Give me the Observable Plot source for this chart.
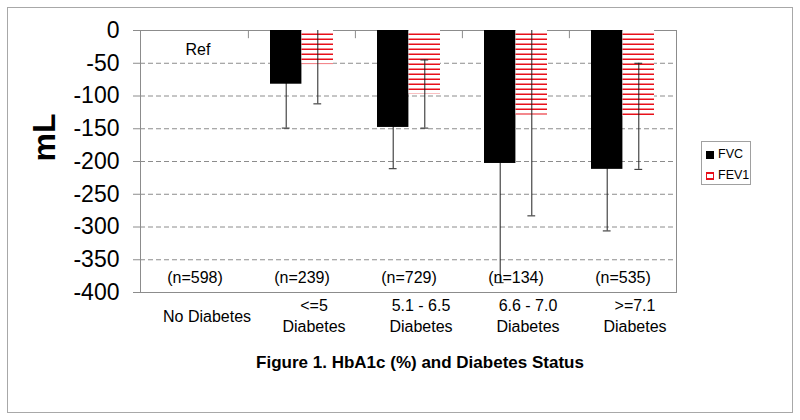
<!DOCTYPE html>
<html>
<head>
<meta charset="utf-8">
<script src="https://cdn.jsdelivr.net/npm/d3@7"></script>
<script src="https://cdn.jsdelivr.net/npm/@observablehq/plot@0.6"></script>
<style>
  html, body { margin: 0; padding: 0; background: #fff; }
  #wrap { position: relative; width: 800px; height: 420px; font-family: "Liberation Sans", Arial, sans-serif; overflow: hidden; }
  #border { position: absolute; left: 7px; top: 7px; width: 786px; height: 406px; box-sizing: border-box; border: 1px solid #a8a8a8; }
  #chart { position: absolute; left: 0; top: 0; }
  #title { position: absolute; left: 0; width: 840px; top: 353px; text-align: center; font-weight: bold; font-size: 17px; color: #000; }
  #legend { position: absolute; left: 701px; top: 141px; width: 50px; height: 44px; box-sizing: border-box; border: 1px solid #a0a0a0; font-size: 12.5px; background: #fff; }
  .item { position: absolute; left: 4px; height: 14px; line-height: 14px; white-space: nowrap; }
  .sw { display: inline-block; width: 8px; height: 8px; vertical-align: -1px; margin-right: 4px; box-sizing: border-box; }
</style>
</head>
<body>
<svg width="0" height="0" style="position:absolute">
  <defs>
    <pattern id="fev1Stripes" patternUnits="userSpaceOnUse" width="10" height="5">
      <rect width="10" height="5" fill="#ffffff"></rect>
      <rect y="3.5" width="10" height="1.5" fill="#e8101a"></rect>
    </pattern>
  </defs>
</svg>
<div id="wrap">
  <div id="border"></div>
  <div id="chart"></div>
  <div id="legend"></div>
  <div id="title"></div>
</div>
<script>
// ---- data ----
const categories = ["No Diabetes", "<=5", "5.1 - 6.5", "6.6 - 7.0", ">=7.1"];
const xLabels = ["No Diabetes", "<=5\nDiabetes", "5.1 - 6.5\nDiabetes", "6.6 - 7.0\nDiabetes", ">=7.1\nDiabetes"];
const nCounts = [598, 239, 729, 134, 535];
const fvc = [0, -82, -148, -203, -212];
const fvcErr = [0, 67, 63, 182, 94];
const fev1 = [0, -52, -97, -129, -131];
const fev1Err = [0, 60, 52, 154, 81];
const yTicks = [0, -50, -100, -150, -200, -250, -300, -350, -400];
const gridTicks = [-50, -100, -150, -200, -250, -300, -350];
const seriesNames = ["FVC", "FEV1"];
const refLabel = "Ref";
const yLabel = "mL";
const titleText = "Figure 1. HbA1c (%) and Diabetes Status";

const rows = categories.map((c, i) => ({
  cat: c, label: xLabels[i], n: nCounts[i],
  fvc: fvc[i], fvcErr: fvcErr[i], fev1: fev1[i], fev1Err: fev1Err[i]
}));
const fvcRows = rows.filter(d => d.fvcErr > 0);
const fev1Rows = rows.filter(d => d.fev1Err > 0);

// ---- layout ----
const W = 800, H = 340;
const mL = 140, mR = 124, mT = 30, mB = 48;
const B = (W - mL - mR) / categories.length;   // band width
const outerGap = 22;
const barW = B / 2 - outerGap;
const capW = 8;
const grid = "#8c8c8c";
const errColor = "#222";

const chart = Plot.plot({
  width: W, height: H,
  marginLeft: mL, marginRight: mR, marginTop: mT, marginBottom: mB,
  style: { fontFamily: "'Liberation Sans', Arial, sans-serif", fontSize: "16px", background: "transparent", color: "#000" },
  x: { domain: categories, padding: 0, axis: null },
  y: { domain: [-400, 0], label: null },
  marks: [
    Plot.ruleY(gridTicks, { stroke: grid, strokeDasharray: "5,3" }),
    Plot.frame({ stroke: "#8c8c8c" }),
    Plot.ruleX(categories.slice(1), { x: d => d, dx: -B / 2, y1: 0, y2: -12.5, stroke: grid }),
    Plot.axisY({ ticks: yTicks, tickFormat: d => String(d), tickSize: 7, tickPadding: 14, fontSize: 23, stroke: grid, label: null }),
    // error bars FVC (behind the solid bars)
    Plot.ruleX(fvcRows, { x: "cat", y1: d => d.fvc - d.fvcErr, y2: d => d.fvc + d.fvcErr, dx: -barW / 2, stroke: errColor, clip: true }),
    Plot.tickY(fvcRows, { x: "cat", y: d => d.fvc - d.fvcErr, insetLeft: B / 2 - barW / 2 - capW / 2, insetRight: B / 2 + barW / 2 - capW / 2, stroke: errColor, clip: true }),
    Plot.tickY(fvcRows, { x: "cat", y: d => d.fvc + d.fvcErr, insetLeft: B / 2 - barW / 2 - capW / 2, insetRight: B / 2 + barW / 2 - capW / 2, stroke: errColor, clip: true }),
    Plot.barY(rows, { x: "cat", y: "fvc", fill: "#000", insetLeft: outerGap, insetRight: B / 2 }),
    Plot.barY(rows, { x: "cat", y: "fev1", fill: "url(#fev1Stripes)", insetLeft: B / 2, insetRight: outerGap }),
    // error bars FEV1 (over the striped bars)
    Plot.ruleX(fev1Rows, { x: "cat", y1: d => d.fev1 - d.fev1Err, y2: d => d.fev1 + d.fev1Err, dx: barW / 2, stroke: errColor, clip: true }),
    Plot.tickY(fev1Rows, { x: "cat", y: d => d.fev1 - d.fev1Err, insetLeft: B / 2 + barW / 2 - capW / 2, insetRight: B / 2 - barW / 2 - capW / 2, stroke: errColor, clip: true }),
    Plot.tickY(fev1Rows, { x: "cat", y: d => d.fev1 + d.fev1Err, insetLeft: B / 2 + barW / 2 - capW / 2, insetRight: B / 2 - barW / 2 - capW / 2, stroke: errColor, clip: true }),
    // annotations
    Plot.text([categories[0]], { x: d => d, text: () => refLabel, frameAnchor: "top", lineAnchor: "middle", dy: 19, dx: 3, fontSize: 16, fill: "#000" }),
    Plot.text(rows, { x: "cat", text: d => `(n=${d.n})`, frameAnchor: "bottom", lineAnchor: "middle", dy: -15, fontSize: 16, fill: "#000" }),
    Plot.text(rows, { x: "cat", text: "label", frameAnchor: "bottom", dy: 22.5, dx: 12, lineAnchor: "middle", lineHeight: 1.3, fontSize: 16, fill: "#000" }),
    Plot.text([yLabel], { text: d => d, frameAnchor: "left", lineAnchor: "middle", dx: -96, rotate: -90, fontSize: 32, fontWeight: "bold", fill: "#000" })
  ]
});
document.getElementById("chart").appendChild(chart);

// legend
const legend = document.getElementById("legend");
const swatchStyles = {
  FVC: "background:#000;",
  FEV1: "background:#fff;border:2px solid #e8101a;border-left-width:1.5px;border-right-width:1.5px;"
};
seriesNames.forEach((s, i) => {
  const it = document.createElement("div");
  it.className = "item";
  it.style.top = (5 + i * 21) + "px";
  it.innerHTML = `<span class="sw" style="${swatchStyles[s]}"></span>${s}`;
  legend.appendChild(it);
});
document.getElementById("title").textContent = titleText;
</script>
</body>
</html>
